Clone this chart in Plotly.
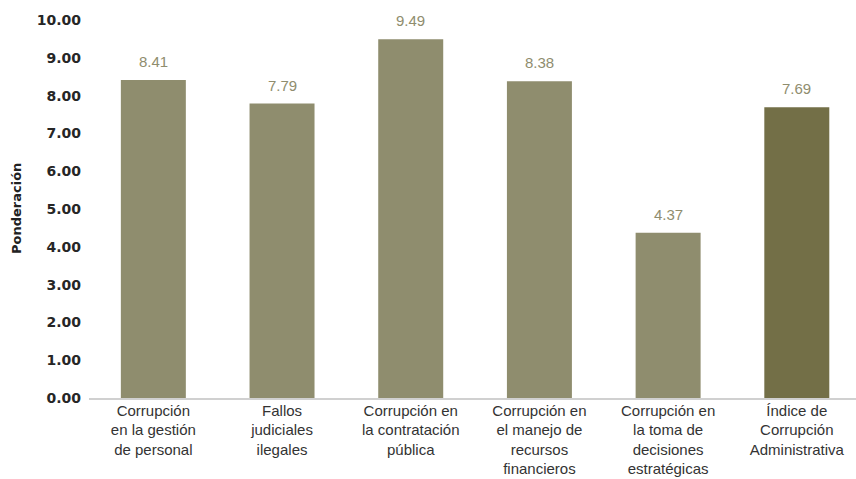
import plotly.graph_objects as go

categories = [
    "Corrupción<br>en la gestión<br>de personal",
    "Fallos<br>judiciales<br>ilegales",
    "Corrupción en<br>la contratación<br>pública",
    "Corrupción en<br>el manejo de<br>recursos<br>financieros",
    "Corrupción en<br>la toma de<br>decisiones<br>estratégicas",
    "Índice de<br>Corrupción<br>Administrativa",
]
values = [8.41, 7.79, 9.49, 8.38, 4.37, 7.69]
bar_colors = ["#8f8d6e", "#8f8d6e", "#8f8d6e", "#8f8d6e", "#8f8d6e", "#736f47"]
y_ticks = [0, 1, 2, 3, 4, 5, 6, 7, 8, 9, 10]

fig = go.Figure(go.Bar(
    x=categories, y=values,
    marker=dict(color=bar_colors, line=dict(width=0)),
    cliponaxis=False,
))
for c, v in zip(categories, values):
    fig.add_annotation(
        x=c, y=v, text=f"{v:.2f}", showarrow=False,
        yanchor="bottom", yshift=8,
        font=dict(family="Liberation Sans", size=15, color="#8f8d6e"),
    )
fig.add_annotation(
    xref="paper", yref="paper", x=0, y=0.5, xshift=-73, xanchor="center",
    text="<b>Ponderación</b>", textangle=-90, showarrow=False,
    font=dict(family="DejaVu Sans", size=13, color="#222222"),
)
fig.update_layout(
    width=856, height=479,
    margin=dict(l=89, r=0, t=20, b=81, autoexpand=False),
    paper_bgcolor="white", plot_bgcolor="white",
    bargap=0.495,
    showlegend=False,
    font=dict(family="Liberation Sans", color="#333333"),
)
fig.update_yaxes(
    range=[0, 10], tickvals=y_ticks, ticktext=[f"{t:.2f}" for t in y_ticks],
    showgrid=False, zeroline=False, showline=False, automargin=False,
    tickfont=dict(family="DejaVu Sans", size=14, color="#262626", weight="bold"),
    ticks="", ticklabelstandoff=7,
)
fig.update_xaxes(
    range=[-0.5, 5.46], automargin=False,
    showline=True, linecolor="#d0d0d0", linewidth=1.5,
    tickfont=dict(family="Liberation Sans", size=15, color="#333333"),
    ticks="", tickangle=0, ticklabelstandoff=-2,
)
fig.write_html(
    "out.html",
    config={"displayModeBar": False},
    post_script="document.body.style.margin='0';document.body.style.overflow='hidden';",
)
